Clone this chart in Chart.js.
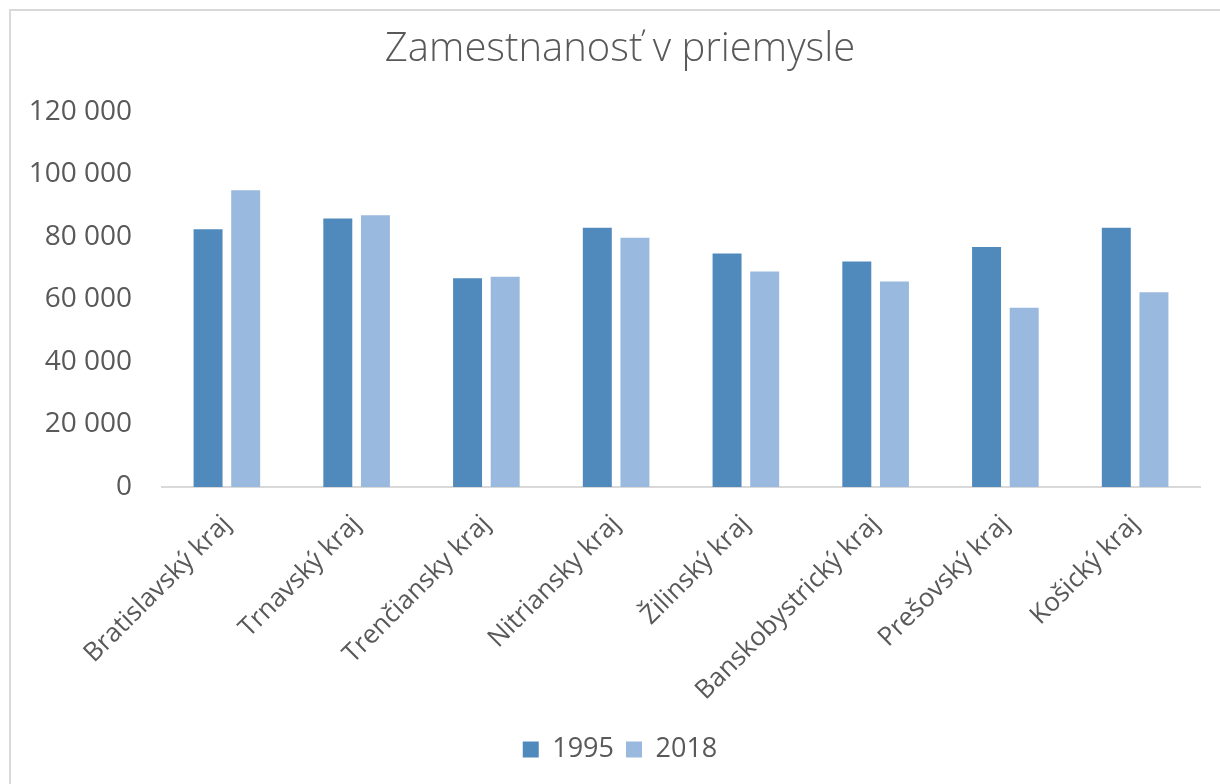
<!DOCTYPE html>
<html>
<head>
<meta charset="utf-8">
<script src="https://cdn.jsdelivr.net/npm/chart.js@4.4.1/dist/chart.umd.min.js"></script>
<style>
  html, body { margin: 0; padding: 0; background: #fff; overflow: hidden; }
  #frame {
    position: absolute; left: 9px; top: 9px; width: 1300px; height: 900px;
    border: 2px solid #d9d9d9; pointer-events: none;
  }
  #wrap { position: absolute; left: 0; top: 0; width: 1220px; height: 784px; }
</style>
</head>
<body>
<div id="frame"></div>
<div id="wrap"><canvas id="industryChart" width="1220" height="784"></canvas></div>
<script>
const regions = [
  'Bratislavský kraj',
  'Trnavský kraj',
  'Trenčiansky kraj',
  'Nitriansky kraj',
  'Žilinský kraj',
  'Banskobystrický kraj',
  'Prešovský kraj',
  'Košický kraj',
];
const years = ['1995', '2018'];
const values1995 = [82500, 85900, 66800, 83000, 74700, 72200, 76800, 83000];
const values2018 = [95000, 87000, 67300, 79800, 69000, 65800, 57400, 62300];
const yTicks = [0, 20000, 40000, 60000, 80000, 100000, 120000];

const fontFamily = '"Open Sans", Lato, sans-serif';
const textColor = '#595959';

const fmt = (v) => String(v).replace(/\B(?=(\d{3})+(?!\d))/g, ' ');

const ctx = document.getElementById('industryChart').getContext('2d');

new Chart(ctx, {
  type: 'bar',
  data: {
    labels: regions,
    datasets: [
      {
        label: years[0],
        data: values1995,
        backgroundColor: '#508ABC',
        categoryPercentage: 0.58,
        barPercentage: 0.77,
      },
      {
        label: years[1],
        data: values2018,
        backgroundColor: '#99B9DF',
        categoryPercentage: 0.58,
        barPercentage: 0.77,
      },
    ],
  },
  options: {
    responsive: false,
    animation: false,
    layout: {
      padding: { left: 20, right: 0, top: 26, bottom: 11 },
    },
    plugins: {
      title: {
        display: true,
        text: 'Zamestnanosť v priemysle',
        color: textColor,
        font: { size: 40, family: fontFamily, weight: '300' },
        padding: { top: 0, bottom: 38 },
      },
      legend: {
        position: 'bottom',
        labels: {
          color: textColor,
          font: { size: 27, family: fontFamily },
          boxWidth: 16,
          boxHeight: 16,
          padding: 12,
        },
      },
      tooltip: { enabled: false },
    },
    scales: {
      x: {
        afterFit: (scale) => { scale.height = 237; },
        grid: { display: false, drawTicks: false },
        border: { color: '#d9d9d9', width: 2 },
        ticks: {
          color: textColor,
          font: { size: 26, family: fontFamily },
          maxRotation: 45,
          minRotation: 45,
          padding: 22,
        },
      },
      y: {
        min: 0,
        max: 120000,
        afterFit: (scale) => { scale.width = 142; },
        afterBuildTicks: (scale) => {
          scale.ticks = yTicks.map((v) => ({ value: v }));
        },
        grid: { display: false, drawTicks: false },
        border: { display: false },
        ticks: {
          color: textColor,
          font: { size: 28, family: fontFamily },
          padding: 30,
          callback: (v) => fmt(v),
        },
      },
      // empty right-hand spacer so the plot ends ~20px from the edge
      yRight: {
        position: 'right',
        afterFit: (scale) => { scale.width = 20; },
        grid: { display: false, drawTicks: false },
        border: { display: false },
        ticks: { display: false },
      },
    },
  },
});
</script>
</body>
</html>
